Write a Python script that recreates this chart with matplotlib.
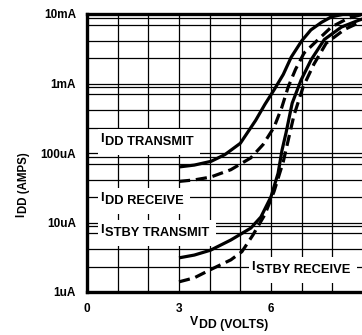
import numpy as np
import matplotlib
matplotlib.use("Agg")
import matplotlib.pyplot as plt

# ---- data (V, amps) ----
idd_tx_v = [3.0, 3.5, 4.05, 4.5, 5.0, 5.5, 5.8, 6.1, 6.4, 6.66, 7.0, 7.3, 7.65, 7.97, 8.4, 8.85, 9.0]
idd_tx_i = [6.3e-5, 6.7e-5, 7.6e-5, 9.5e-5, 1.38e-4, 2.95e-4, 5.0e-4, 8.1e-4, 1.35e-3, 2.4e-3, 4.1e-3, 5.9e-3, 7.6e-3, 9.1e-3, 1.0e-2, 1.07e-2, 1.1e-2]

idd_rx_v = [3.0, 3.5, 4.03, 4.69, 5.34, 5.74, 6.1, 6.35, 6.56, 6.8, 7.08, 7.54, 7.97, 8.52, 8.95]
idd_rx_i = [3.9e-5, 4.1e-5, 4.5e-5, 5.75e-5, 8.5e-5, 1.32e-4, 2.35e-4, 4.5e-4, 8.9e-4, 1.6e-3, 2.75e-3, 4.3e-3, 6.5e-3, 8.7e-3, 9.8e-3]

stby_tx_v = [3.0, 3.5, 4.03, 4.69, 5.34, 5.67, 6.0, 6.23, 6.36, 6.49, 6.69, 6.98, 7.31, 7.74, 8.3, 8.85, 9.0]
stby_tx_i = [3.1e-6, 3.4e-6, 4.0e-6, 5.6e-6, 8.3e-6, 1.2e-5, 2.35e-5, 5.1e-5, 1.1e-4, 1.95e-4, 5.2e-4, 1.12e-3, 2.2e-3, 4.3e-3, 6.5e-3, 8.1e-3, 8.5e-3]

stby_rx_v = [3.0, 3.5, 4.03, 4.69, 5.05, 5.41, 5.8, 6.1, 6.4, 6.75, 7.05, 7.4, 7.8, 8.4, 8.95]
stby_rx_i = [1.4e-6, 1.6e-6, 2.1e-6, 2.9e-6, 3.8e-6, 6.6e-6, 1.3e-5, 2.8e-5, 7.5e-5, 3.5e-4, 9.0e-4, 1.9e-3, 3.8e-3, 6.0e-3, 7.8e-3]

ytick_vals = [1e-6, 1e-5, 1e-4, 1e-3, 1e-2]
ytick_labels = ["1uA", "10uA", "100uA", "1mA", "10mA"]
xtick_vals = [0, 3, 6]
xtick_labels = ["0", "3", "6"]
grid_mult = [1, 2.3, 4.1, 7, 8.8]   # uneven grid of the original chart paper

plt.rcParams["font.family"] = ["Liberation Sans", "DejaVu Sans"]
plt.rcParams["font.weight"] = "bold"

W, H = 362, 335
fig = plt.figure(figsize=(W / 100, H / 100), dpi=100)
# axes in pixel terms: left 87, right 363 (just off the picture), top 14, bottom 292
ax = fig.add_axes([87 / W, (H - 292) / H, (363 - 87) / W, (292 - 14) / H])
ax.set_yscale("log")
ax.set_xlim(0, 9)
ax.set_ylim(1e-6, 1e-2)

# chart-paper grid
for k in range(-6, -2):
    for m in grid_mult:
        v = m * 10.0 ** k
        if 1e-6 < v < 1e-2:
            ax.axhline(v, color="black", lw=0.9, zorder=1)
for xv in range(1, 9):
    ax.axvline(xv, color="black", lw=0.9, zorder=1)

lw = 2.3
ax.plot(idd_tx_v, idd_tx_i, color="black", lw=lw, zorder=4, solid_capstyle="butt")
ax.plot(idd_rx_v, idd_rx_i, color="black", lw=lw, ls=(0, (3.5, 1.8)), zorder=4)
ax.plot(stby_tx_v, stby_tx_i, color="black", lw=lw, zorder=4, solid_capstyle="butt")
ax.plot(stby_rx_v, stby_rx_i, color="black", lw=lw, ls=(0, (3.5, 1.8)), zorder=3)

renderer = fig.canvas.get_renderer()


def label(px, py, head, rest, fs=9.3, box=True, rot=0):
    """datasheet style label: raised head letter then the rest; px, py = baseline start in pixels"""
    kw = dict(xycoords="figure pixels", textcoords="offset pixels", fontsize=fs,
              ha="left", va="baseline", rotation=rot, rotation_mode="anchor")
    off = (0, 3) if rot == 0 else (-3, 0)
    t = ax.annotate(head, xy=(px, H - py), xytext=off, zorder=5, **kw)
    bb = t.get_window_extent(renderer)
    if rot == 0:
        pos = (bb.x1 + 1, H - py)
    else:
        pos = (px, bb.y1 + 1)
    if box:
        kw["bbox"] = dict(facecolor="white", edgecolor="none", pad=5)
    ax.annotate(rest, xy=pos, xytext=(0, 0), zorder=3, **kw)


label(100, 145, "I", "DD TRANSMIT")
label(100, 204, "I", "DD RECEIVE")
label(100, 236, "I", "STBY TRANSMIT")
label(251, 273, "I", "STBY RECEIVE")

ax.set_yticks(ytick_vals)
ax.set_yticklabels(ytick_labels, fontsize=8.5, fontweight="bold")
ax.yaxis.set_minor_locator(matplotlib.ticker.NullLocator())
ax.set_xticks(xtick_vals)
ax.set_xticklabels(xtick_labels, fontsize=8.5, fontweight="bold")
ax.tick_params(axis="both", length=0, pad=8)

for s in ["left", "bottom", "top"]:
    ax.spines[s].set_linewidth(2.4)
ax.spines["right"].set_visible(False)

label(190, 328, "V", "DD (VOLTS)", fs=8.8, box=False)
label(27, 217, "I", "DD (AMPS)", fs=8.3, box=False, rot=90)

fig.savefig("out.png", dpi=100)
